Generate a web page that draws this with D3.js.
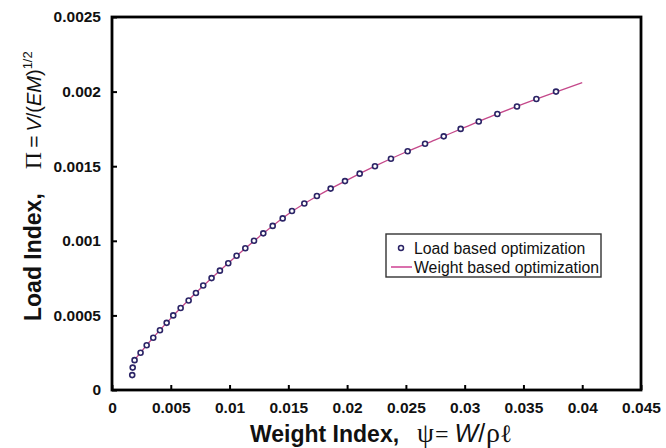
<!DOCTYPE html>
<html>
<head>
<meta charset="utf-8">
<script src="https://cdn.jsdelivr.net/npm/d3@7"></script>
<style>
  html, body { margin: 0; padding: 0; background: #fff; }
  svg { display: block; }
</style>
</head>
<body>
<svg id="chart" width="666" height="448"></svg>
<script>
// Load-based optimization results (weight index ψ, load index Π)
const loadPsi = [0.00172, 0.00176, 0.00192, 0.00243, 0.00295, 0.00351, 0.00408, 0.00465,
  0.00521, 0.00584, 0.00652, 0.00714, 0.00776, 0.00847, 0.00918, 0.00989, 0.0106, 0.01134,
  0.01208, 0.01287, 0.01367, 0.01452, 0.01531, 0.01636, 0.01743, 0.0186, 0.01982, 0.02107,
  0.02237, 0.02373, 0.02515, 0.02663, 0.02822, 0.02966, 0.0312, 0.03278, 0.03445, 0.0361, 0.03777];
const loadPi = [0.0001, 0.00015, 0.0002, 0.00025, 0.0003, 0.00035, 0.0004, 0.00045,
  0.0005, 0.00055, 0.0006, 0.00065, 0.0007, 0.00075, 0.0008, 0.00085, 0.0009, 0.00095,
  0.001, 0.00105, 0.0011, 0.00115, 0.0012, 0.00125, 0.0013, 0.00135, 0.0014, 0.00145,
  0.0015, 0.00155, 0.0016, 0.00165, 0.0017, 0.00175, 0.0018, 0.00185, 0.0019, 0.00195, 0.002];

// Weight-based optimization curve
const weightPsi = [0.0019, 0.003, 0.005, 0.0075, 0.01, 0.0125, 0.015, 0.0175, 0.02,
  0.0225, 0.025, 0.0275, 0.03, 0.0325, 0.035, 0.0375, 0.04];
const weightPi = [0.0002, 0.000305, 0.00048, 0.000678, 0.000858, 0.001026, 0.00118, 0.001302,
  0.001407, 0.001505, 0.001595, 0.001677, 0.00176, 0.001842, 0.001918, 0.00199, 0.00206];

const xTicks = [0, 0.005, 0.01, 0.015, 0.02, 0.025, 0.03, 0.035, 0.04, 0.045];
const yTicks = [0, 0.0005, 0.001, 0.0015, 0.002, 0.0025];
const legendLabels = ["Load based optimization", "Weight based optimization"];

const svg = d3.select("#chart");
const L = 112, R = 641, T = 17, B = 390;

const x = d3.scaleLinear().domain([0, 0.045]).range([L, R]);
const y = d3.scaleLinear().domain([0, 0.0025]).range([B, T]);

const tickFont = "bold 15.5px 'Liberation Sans', Arial, sans-serif";
const fmt = d => d === 0 ? "0" : String(+d.toFixed(4));

// x axis with inward ticks
const gx = svg.append("g").attr("transform", `translate(0,${B})`)
  .call(d3.axisBottom(x).tickValues(xTicks).tickFormat(fmt)
    .tickSizeInner(-5).tickSizeOuter(0).tickPadding(12));
gx.select(".domain").remove();
gx.selectAll(".tick line").attr("stroke", "#000").attr("stroke-width", 2);
gx.selectAll(".tick text").style("font", tickFont).attr("fill", "#111");

// y axis with inward ticks
const gy = svg.append("g").attr("transform", `translate(${L},0)`)
  .call(d3.axisLeft(y).tickValues(yTicks).tickFormat(fmt)
    .tickSizeInner(-5).tickSizeOuter(0).tickPadding(11));
gy.select(".domain").remove();
gy.selectAll(".tick line").attr("stroke", "#000").attr("stroke-width", 2);
gy.selectAll(".tick text").style("font", tickFont).attr("fill", "#111");

// plot frame
svg.append("rect")
  .attr("x", L).attr("y", T).attr("width", R - L).attr("height", B - T)
  .attr("fill", "none").attr("stroke", "#000").attr("stroke-width", 2.8);

// weight based curve
const lineColor = "#c4488a";
const markColor = "#2b2466";
svg.append("path")
  .datum(weightPsi.map((v, i) => [v, weightPi[i]]))
  .attr("fill", "none").attr("stroke", lineColor).attr("stroke-width", 1.3)
  .attr("d", d3.line().x(d => x(d[0])).y(d => y(d[1])).curve(d3.curveMonotoneX));

// load based points
svg.append("g").selectAll("circle")
  .data(loadPsi.map((v, i) => [v, loadPi[i]]))
  .join("circle")
  .attr("cx", d => x(d[0])).attr("cy", d => y(d[1])).attr("r", 2.5)
  .attr("fill", "#fff").attr("stroke", markColor).attr("stroke-width", 1.6);

// legend
const lg = svg.append("g");
lg.append("rect").attr("x", 386).attr("y", 234).attr("width", 215).attr("height", 43)
  .attr("fill", "#fff").attr("stroke", "#333").attr("stroke-width", 1.4);
lg.append("circle").attr("cx", 401).attr("cy", 248).attr("r", 2.5)
  .attr("fill", "#fff").attr("stroke", markColor).attr("stroke-width", 1.5);
lg.append("line").attr("x1", 391).attr("x2", 412).attr("y1", 267).attr("y2", 267)
  .attr("stroke", "#d660a4").attr("stroke-width", 1.8);
lg.selectAll("text").data(legendLabels).join("text")
  .attr("x", 414).attr("y", (d, i) => 253.5 + i * 19.5)
  .style("font", "15.8px 'Liberation Sans', Arial, sans-serif").attr("fill", "#111")
  .text(d => d);

// axis titles
const sansB = "'Liberation Sans', Arial, sans-serif";
const serif = "'Liberation Serif', 'Times New Roman', serif";

const xt = svg.append("text").attr("x", 250).attr("y", 442).attr("fill", "#111");
xt.append("tspan").style("font", `bold 23px ${sansB}`).text("Weight Index,");
xt.append("tspan").attr("dx", 18).style("font", `27px ${serif}`).text("ψ");
xt.append("tspan").attr("dx", 1).style("font", `24px ${serif}`).text("=");
xt.append("tspan").attr("dx", 6).style("font", `italic 25px ${sansB}`).text("W");
xt.append("tspan").style("font", `25px ${sansB}`).text("/");
xt.append("tspan").attr("dx", 1).style("font", `28px ${serif}`).text("ρ");
xt.append("tspan").style("font", `25px 'DejaVu Serif', serif`).text("ℓ");

const yt = svg.append("text").attr("transform", "translate(41,321) rotate(-90)").attr("fill", "#111");
yt.append("tspan").style("font", `bold 23px ${sansB}`).text("Load Index,");
yt.append("tspan").attr("dx", 24).style("font", `24px ${serif}`).text("Π");
yt.append("tspan").attr("dx", 4).style("font", `21px ${sansB}`).text("=");
yt.append("tspan").attr("dx", 4).style("font", `italic 20px ${sansB}`).text("V");
yt.append("tspan").style("font", `20px ${sansB}`).text("/(");
yt.append("tspan").style("font", `italic 20px ${sansB}`).text("EM");
yt.append("tspan").style("font", `20px ${sansB}`).text(")");
yt.append("tspan").attr("dy", -9).style("font", `13px ${sansB}`).text("1/2");
</script>
</body>
</html>
